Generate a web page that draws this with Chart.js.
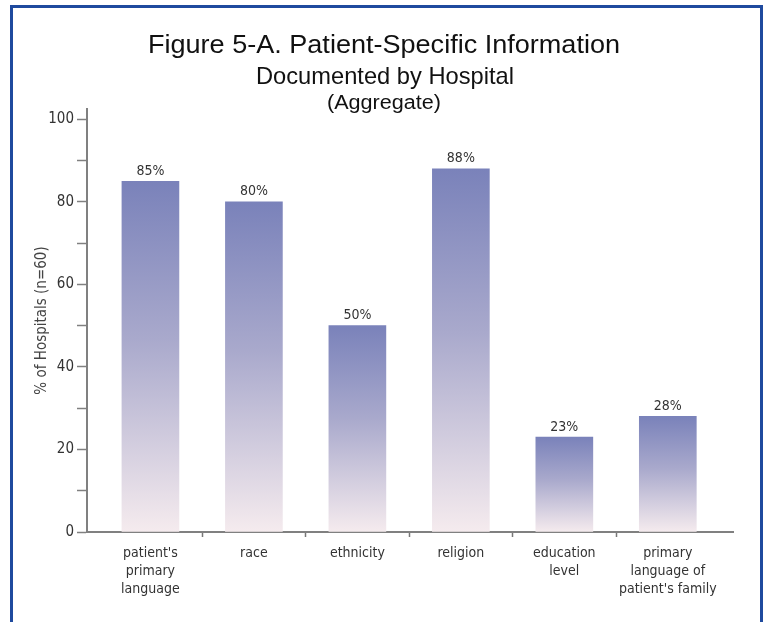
<!DOCTYPE html>
<html>
<head>
<meta charset="utf-8">
<script src="https://cdn.jsdelivr.net/npm/chart.js@4/dist/chart.umd.min.js"></script>
<style>
  html, body { margin: 0; padding: 0; background: #fff; overflow: hidden; }
  #frame { position: absolute; left: 10px; top: 5px; width: 747px; height: 700px; border: 3px solid #1f4a9e; border-bottom: none; }
  #chart { position: absolute; left: 0; top: 0; }
</style>
</head>
<body>
<div id="frame"></div>
<canvas id="chart" width="763" height="622"></canvas>
<script>
// data
const categories = [
    ["patient's", 'primary', 'language'],
    ['race'],
    ['ethnicity'],
    ['religion'],
    ['education', 'level'],
    ['primary', 'language of', "patient's family"],
];
const percentValues = [85, 80, 50, 88, 23, 28];
const yTickLabels = [0, 20, 40, 60, 80, 100];

const titleLines = ['Figure 5-A. Patient-Specific Information', 'Documented by Hospital'];
const subTitle = '(Aggregate)';

const narrow = "'Liberation Sans Narrow', 'DejaVu Sans Condensed', sans-serif";

// gradient per bar, blue at the top fading to pale pink at the base
const barGradient = (c) => {
    const chart = c.chart;
    const y = chart.scales.y;
    if (!y || c.type !== 'data' || !c.parsed) return '#7b83bb';
    const top = y.getPixelForValue(c.parsed.y);
    const base = y.getPixelForValue(0);
    if (!isFinite(top) || !isFinite(base) || top === base) return '#7b83bb';
    const g = chart.ctx.createLinearGradient(0, top, 0, base);
    g.addColorStop(0, '#7a82ba');
    g.addColorStop(0.45, '#a9a9cc');
    g.addColorStop(1, '#f5ebee');
    return g;
};

// draw text stretched/squeezed to a given width (the original face is not installed)
function fitText(ctx, text, cx, cy, width) {
    const w = ctx.measureText(text).width;
    ctx.save();
    ctx.translate(cx, cy);
    ctx.scale(width / w, 1);
    ctx.fillText(text, 0, 0);
    ctx.restore();
}

const titlePlugin = {
    id: 'figTitle',
    afterDraw(chart) {
        const ctx = chart.ctx;
        ctx.save();
        ctx.fillStyle = '#111';
        ctx.textAlign = 'center';
        ctx.textBaseline = 'middle';
        ctx.font = "25px 'Liberation Sans', Arial, sans-serif";
        fitText(ctx, titleLines[0], 384, 46, 472);
        ctx.font = "24px 'Liberation Sans', Arial, sans-serif";
        fitText(ctx, titleLines[1], 385, 77, 258);
        ctx.font = "20px 'Liberation Sans', Arial, sans-serif";
        fitText(ctx, subTitle, 384, 103, 114);
        ctx.restore();
    }
};

const valueLabels = {
    id: 'valueLabels',
    afterDatasetsDraw(chart) {
        const ctx = chart.ctx;
        const meta = chart.getDatasetMeta(0);
        ctx.save();
        ctx.fillStyle = '#333';
        ctx.font = '14px ' + narrow;
        ctx.textAlign = 'center';
        ctx.textBaseline = 'bottom';
        meta.data.forEach((bar, i) => {
            ctx.fillText(percentValues[i] + '%', bar.x, bar.y - 3);
        });
        ctx.restore();
    }
};

new Chart(document.getElementById('chart'), {
    type: 'bar',
    data: {
        datasets: [{
            data: percentValues.map((v, i) => ({ x: i, y: v })),
            backgroundColor: barGradient,
            borderWidth: 0,
            barThickness: 57,
        }]
    },
    options: {
        responsive: false,
        animation: false,
        devicePixelRatio: 1,
        layout: { padding: { top: 109, right: 30, left: 0, bottom: 0 } },
        plugins: {
            legend: { display: false },
            tooltip: { enabled: false },
        },
        scales: {
            x: {
                type: 'linear',
                offset: false,
                min: -0.613,
                max: 5.63,
                afterBuildTicks: (scale) => {
                    const t = [];
                    for (let i = 0; i < categories.length; i++) {
                        t.push({ value: i });
                        if (i < categories.length - 1) t.push({ value: i + 0.5 });
                    }
                    scale.ticks = t;
                },
                afterFit: (scale) => { scale.height = 90; },
                ticks: {
                    autoSkip: false,
                    maxRotation: 0,
                    padding: 7,
                    color: '#333',
                    font: { family: narrow, size: 14, lineHeight: 1.3 },
                    callback: (v) => Number.isInteger(v) ? categories[v] : '',
                },
                grid: {
                    drawOnChartArea: false,
                    offset: false,
                    tickLength: 5,
                    tickWidth: 1.5,
                    tickColor: (c) => (c.tick && !Number.isInteger(c.tick.value)) ? '#777' : 'rgba(0,0,0,0)',
                },
                border: { color: '#808080', width: 2 },
            },
            y: {
                min: 0,
                max: 102.5,
                afterBuildTicks: (scale) => {
                    const t = [];
                    for (let v = 0; v <= 100; v += 10) t.push({ value: v });
                    scale.ticks = t;
                },
                afterFit: (scale) => { scale.width = 87; },
                ticks: {
                    padding: 3,
                    color: '#333',
                    font: { family: narrow, size: 15 },
                    callback: (v) => yTickLabels.includes(v) ? String(v) : '',
                },
                grid: {
                    drawOnChartArea: false,
                    tickLength: 10,
                    tickWidth: 1.5,
                    tickColor: '#808080',
                },
                border: { color: '#808080', width: 2 },
                title: {
                    display: true,
                    text: '% of Hospitals (n=60)',
                    color: '#444',
                    font: { family: narrow, size: 15 },
                    padding: { top: 33, bottom: 0 },
                },
            },
        },
    },
    plugins: [titlePlugin, valueLabels],
});
</script>
</body>
</html>
